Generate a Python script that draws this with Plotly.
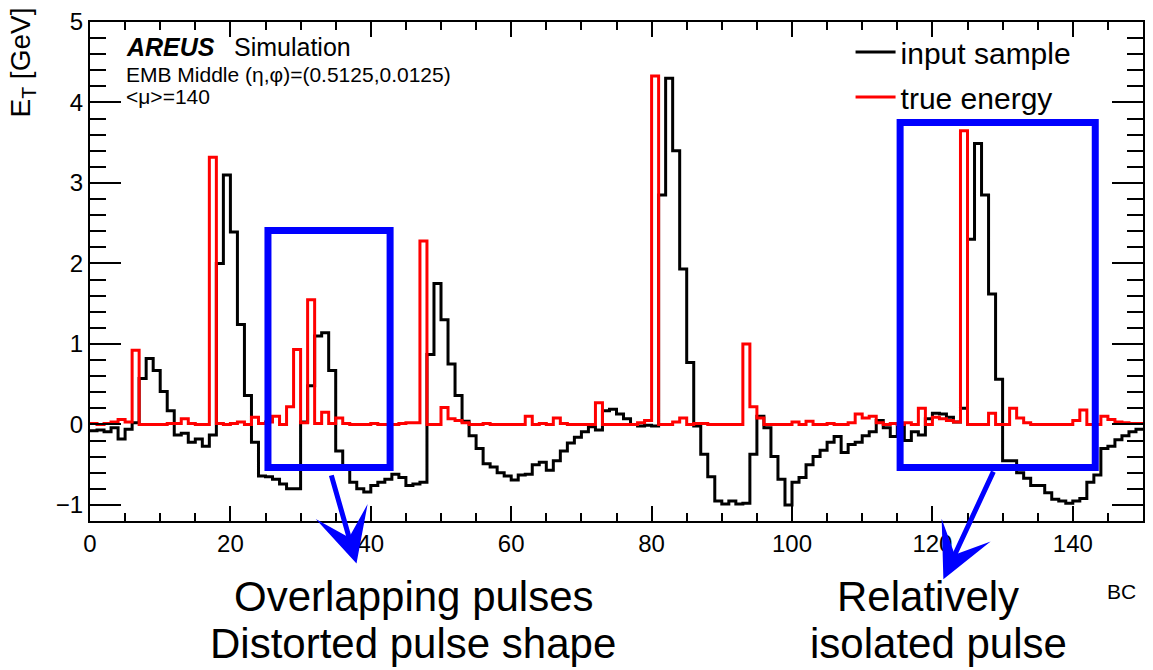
import plotly.graph_objects as go

# ---------------- data (bin contents, 150 bins of width 1 BC) ----------------
bc_edges = list(range(0, 151))

input_sample = [
    -0.08, -0.07, -0.09, -0.04, -0.18, -0.06, 0.02, 0.57, 0.82, 0.67,
    0.41, 0.17, -0.13, -0.11, -0.22, -0.18, -0.27, -0.13, 2.00, 3.10,
    2.39, 1.24, 0.36, -0.22, -0.64, -0.65, -0.68, -0.74, -0.80, -0.80,
    0.03, 0.48, 1.10, 1.14, 0.67, -0.33, -0.55, -0.72, -0.80, -0.84,
    -0.76, -0.72, -0.68, -0.62, -0.66, -0.76, -0.74, -0.72, 0.87, 1.75,
    1.30, 0.75, 0.36, 0.04, -0.14, -0.30, -0.49, -0.53, -0.60, -0.64,
    -0.69, -0.63, -0.62, -0.50, -0.47, -0.57, -0.45, -0.33, -0.23, -0.16,
    -0.09, -0.03, -0.07, 0.17, 0.19, 0.13, 0.07, 0.00, -0.02, -0.01,
    -0.02, 2.85, 4.30, 3.40, 1.93, 0.77, -0.02, -0.37, -0.65, -0.95,
    -0.99, -0.95, -0.99, -0.98, -0.37, 0.10, -0.04, -0.40, -0.68, -1.00,
    -0.72, -0.66, -0.50, -0.40, -0.32, -0.22, -0.15, -0.35, -0.25, -0.22,
    -0.14, -0.09, 0.05, -0.04, -0.15, -0.01, -0.20, -0.09, -0.13, 0.07,
    0.14, 0.13, 0.09, 0.03, 0.20, 2.30, 3.49, 2.85, 1.62, 0.56,
    -0.45, -0.45, -0.60, -0.67, -0.76, -0.76, -0.85, -0.93, -0.95, -0.98,
    -0.95, -0.92, -0.72, -0.63, -0.30, -0.27, -0.19, -0.14, -0.09, -0.06,
]

true_energy = [
    0.01, 0.00, 0.01, 0.03, 0.06, 0.03, 0.92, 0.00, 0.00, 0.00,
    0.00, 0.01, 0.01, 0.07, 0.01, 0.00, 0.00, 3.32, 0.01, 0.00,
    0.01, 0.03, 0.00, 0.09, 0.01, 0.03, 0.10, 0.00, 0.22, 0.93,
    0.02, 1.55, 0.01, 0.15, 0.01, 0.08, 0.01, 0.00, 0.00, 0.00,
    0.01, 0.00, 0.00, 0.00, 0.01, 0.02, 0.02, 2.28, 0.00, 0.00,
    0.21, 0.07, 0.05, 0.02, 0.00, 0.00, 0.01, 0.00, 0.00, 0.00,
    0.00, 0.00, 0.10, 0.00, 0.01, 0.00, 0.08, 0.01, 0.00, 0.00,
    0.00, 0.00, 0.27, 0.00, 0.00, 0.00, 0.00, 0.00, 0.02, 0.05,
    4.33, 0.00, 0.00, 0.03, 0.08, 0.00, 0.01, 0.01, 0.00, 0.00,
    0.00, 0.00, 0.00, 1.00, 0.22, 0.08, 0.00, 0.00, 0.00, 0.00,
    0.03, 0.00, 0.04, 0.00, 0.00, 0.01, 0.00, 0.00, 0.02, 0.13,
    0.08, 0.10, 0.02, 0.00, 0.01, 0.00, 0.02, 0.00, 0.20, 0.00,
    0.09, 0.07, 0.05, 0.03, 3.65, 0.00, 0.00, 0.00, 0.14, 0.00,
    0.00, 0.20, 0.08, 0.02, 0.00, 0.00, 0.00, 0.00, 0.00, 0.00,
    0.05, 0.18, 0.00, 0.00, 0.10, 0.06, 0.03, 0.02, 0.01, 0.01,
]

x_tick_vals = [0, 20, 40, 60, 80, 100, 120, 140]
y_tick_vals = [-1, 0, 1, 2, 3, 4, 5]

# highlighted regions (data coordinates)
box_overlap = dict(x0=25.35, x1=42.75, y0=-0.535, y1=2.41)
box_isolated = dict(x0=115.4, x1=143.2, y0=-0.535, y1=3.75)

# ---------------- layout geometry ----------------
W, H = 1153, 670
L, R, T, B = 90, 8, 15, 149
PW, PH = W - L - R, H - T - B
FONT = "Liberation Sans, Arial, Helvetica, sans-serif"


def pxx(p):
    return (p - L) / PW


def pxy(p):
    return (H - B - p) / PH


fig = go.Figure()

fig.add_trace(go.Scatter(
    x=bc_edges, y=input_sample + [input_sample[-1]],
    mode="lines", line=dict(color="black", width=3, shape="hv"),
    name="input sample", legendgroup="a",
))
fig.add_trace(go.Scatter(
    x=bc_edges, y=true_energy + [true_energy[-1]],
    mode="lines", line=dict(color="#ff0000", width=3, shape="hv"),
    name="true energy", legendgroup="b",
))

for b in (box_overlap, box_isolated):
    fig.add_shape(type="rect", xref="x", yref="y", **b,
                  line=dict(color="#0000ff", width=7), fillcolor="rgba(0,0,0,0)")

ann = []


def text(s, x, y, size, xanchor="left", yanchor="middle", angle=0):
    ann.append(dict(text=s, x=pxx(x), y=pxy(y), xref="paper", yref="paper",
                    showarrow=False, xanchor=xanchor, yanchor=yanchor,
                    textangle=angle, font=dict(family=FONT, size=size, color="black")))


text("<b><i>AREUS</i></b>", 124, 40, 25)
text("Simulation", 232, 40, 25)
text("EMB Middle (η,φ)=(0.5125,0.0125)", 124, 68, 21)
text("&lt;μ&gt;=140", 124, 91, 21)
text("E<sub>T</sub> [GeV]", 22, 56, 28, xanchor="center", angle=-90)
text("BC", 1140, 592, 21, xanchor="right")
text("Overlapping pulses", 415, 598, 42, xanchor="center")
text("Distorted pulse shape", 414, 645, 42, xanchor="center")
text("Relatively", 930, 598, 42, xanchor="center")
text("isolated pulse", 940, 645, 42, xanchor="center")

# arrows from the boxes to the captions (tip in paper coords, tail offset in px)
for tip, tail in (((357, 564), (329, 466)), ((945, 580), (998, 466))):
    ann.append(dict(text=" ", x=pxx(tip[0]), y=pxy(tip[1]), xref="paper", yref="paper",
                    ax=tail[0] - tip[0], ay=tail[1] - tip[1], axref="pixel", ayref="pixel",
                    showarrow=True, arrowhead=3, arrowwidth=5, arrowsize=1.8,
                    arrowcolor="#0000ff", standoff=0))

fig.update_layout(
    width=W, height=H,
    margin=dict(l=L, r=R, t=T, b=B, pad=0),
    paper_bgcolor="white", plot_bgcolor="white",
    annotations=ann,
    showlegend=True,
    legend=dict(x=pxx(852), y=pxy(19), xanchor="left", yanchor="top",
                font=dict(family=FONT, size=30, color="black"),
                bgcolor="rgba(0,0,0,0)", tracegroupgap=3, traceorder="grouped",
                itemwidth=40),
    xaxis=dict(range=[0, 150], tickvals=x_tick_vals, ticks="inside", ticklen=15,
               tickwidth=1.5, tickcolor="black", showline=True, linecolor="black",
               linewidth=2, mirror="allticks", showgrid=False, zeroline=False,
               tickfont=dict(family=FONT, size=24, color="black"),
               minor=dict(dtick=5, ticks="inside", ticklen=8, tickwidth=1.5,
                          tickcolor="black", showgrid=False)),
    yaxis=dict(range=[-1.2, 5], tickvals=y_tick_vals, ticks="inside", ticklen=31,
               tickwidth=1.5, tickcolor="black", showline=True, linecolor="black",
               linewidth=2, mirror="allticks", showgrid=False, zeroline=False,
               tickfont=dict(family=FONT, size=24, color="black"),
               minor=dict(dtick=0.2, ticks="inside", ticklen=16, tickwidth=1.5,
                          tickcolor="black", showgrid=False)),
)

fig.write_html("out.html")
